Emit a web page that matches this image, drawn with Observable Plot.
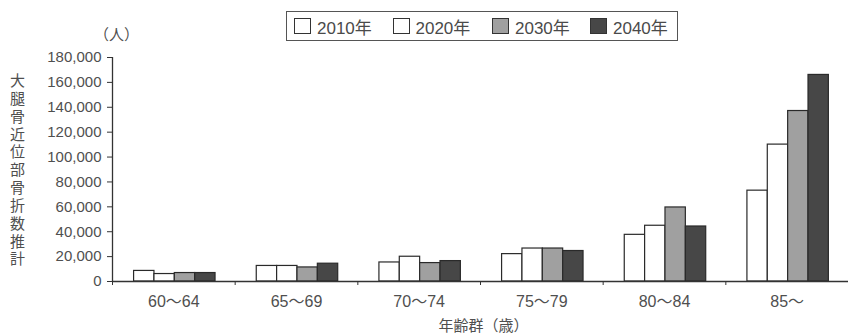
<!DOCTYPE html>
<html>
<head>
<meta charset="utf-8">
<script src="https://cdn.jsdelivr.net/npm/d3@7"></script>
<script src="https://cdn.jsdelivr.net/npm/@observablehq/plot@0.6"></script>
<style>
  body { margin: 0; background: #fff; }
  #wrap { position: relative; width: 848px; height: 335px; font-family: "Liberation Sans", Arial, "Noto Sans CJK JP", sans-serif; }
  #legend {
    position: absolute; left: 286px; top: 11px; width: 390px; height: 28px;
    border: 1.5px solid #555; box-sizing: content-box;
  }
  .item { position: absolute; top: 0; height: 28px; display: flex; align-items: center; }
  .sw { width: 15px; height: 14px; border: 1.5px solid #333; margin-right: 6px; }
  .lab { font-size: 17px; color: #4a4a4a; }
</style>
</head>
<body>
<div id="wrap">
  <div id="chart"></div>
  <div id="legend"></div>
</div>
<script>
// Age groups (x categories)
const ages = ["60～64", "65～69", "70～74", "75～79", "80～84", "85～"];
// Projection years (series)
const years = ["2010年", "2020年", "2030年", "2040年"];
// Estimated number of proximal femur fractures per age group (persons)
const v2010 = [8500, 12500, 15300, 22000, 37500, 73000];
const v2020 = [6000, 12500, 19900, 26500, 44800, 110000];
const v2030 = [6800, 11300, 14800, 26500, 59500, 137000];
const v2040 = [6800, 14300, 16400, 24500, 44200, 166000];
// Y-axis tick values
const yTicks = [0, 20000, 40000, 60000, 80000, 100000, 120000, 140000, 160000, 180000];

const series = [v2010, v2020, v2030, v2040];
const fills = ["#ffffff", "#ffffff", "#a0a0a0", "#474747"];

// One row per (age group, year)
const rows = ages.flatMap((age, i) =>
  years.map((year, j) => ({ g: i, k: j, age, year, value: series[j][i] }))
);

// Bars sit in the middle of each age band; each bar is a fixed fraction of the band
const barW = 0.166;
const start = 0.5 - 2 * barW + 0.008;

const textColor = "#4f4f4f";

const chart = Plot.plot({
  width: 848,
  height: 335,
  marginLeft: 112,
  marginRight: 0,
  marginTop: 57,
  marginBottom: 54,
  style: { fontFamily: '"Liberation Sans", Arial, "Noto Sans CJK JP", sans-serif', color: textColor, background: "#fff" },
  x: { domain: [0, ages.length], axis: null },
  y: { domain: [0, 180000], axis: null },
  marks: [
    Plot.axisY({
      ticks: yTicks, tickSize: 5, tickPadding: 6, fontSize: 15,
      tickFormat: d3.format(","), label: null, stroke: "#333"
    }),
    Plot.ruleX([0], { stroke: "#333", strokeWidth: 1.3 }),
    Plot.rectY(rows, {
      x1: d => d.g + start + d.k * barW,
      x2: d => d.g + start + (d.k + 1) * barW,
      y: "value",
      fill: d => fills[d.k],
      stroke: "#2a2a2a",
      strokeWidth: 1.2
    }),
    Plot.ruleY([0], { stroke: "#333", strokeWidth: 1.3 }),
    // Tick marks between age groups
    Plot.axisX({
      ticks: d3.range(0, ages.length + 1), tickSize: 4, tickFormat: () => "",
      label: null, stroke: "#333"
    }),
    // Age-group labels at the band centres
    Plot.axisX({
      ticks: ages.map((_, i) => i + 0.5), tickSize: 0, tickPadding: 14, fontSize: 16,
      tickFormat: d => ages[Math.floor(d)], label: null
    }),
    // Vertical (stacked) y-axis title
    Plot.text(["大腿骨近位部骨折数推計"], {
      text: d => Array.from(d).join("\n"),
      frameAnchor: "left", dx: -95, textAnchor: "middle", lineAnchor: "middle",
      lineHeight: 1.19, fontSize: 15, fill: textColor
    }),
    // Unit label
    Plot.text(["（人）"], {
      frameAnchor: "top-left", dx: 4, dy: -22, textAnchor: "middle", lineAnchor: "middle",
      fontSize: 15, fill: textColor
    }),
    // X-axis title
    Plot.text(["年齢群（歳）"], {
      frameAnchor: "bottom", dy: 45, dx: 3, lineAnchor: "middle", fontSize: 15, fill: textColor
    })
  ]
});
document.getElementById("chart").appendChild(chart);

// Legend box with one swatch per year
const legend = d3.select("#legend");
const itemLeft = [7, 105.5, 205, 303];
years.forEach((y, j) => {
  const it = legend.append("div").attr("class", "item").style("left", itemLeft[j] + "px");
  it.append("div").attr("class", "sw").style("background", fills[j]);
  it.append("div").attr("class", "lab").text(y);
});
</script>
</body>
</html>
